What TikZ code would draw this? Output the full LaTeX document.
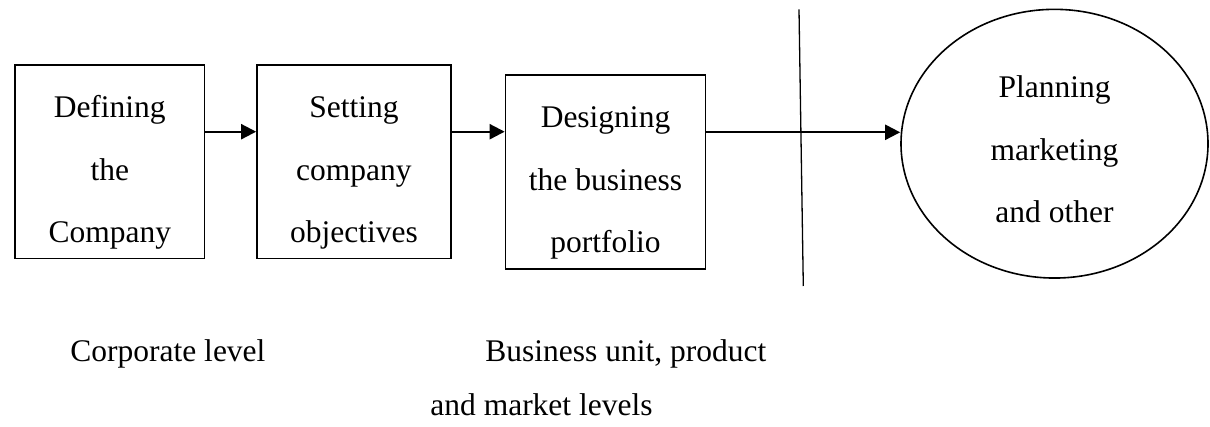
\documentclass[tikz,border=0pt]{standalone}
\usepackage{fontspec}
\setmainfont{Liberation Serif}
\usetikzlibrary{arrows.meta,shapes.geometric}
\begin{document}
\begin{tikzpicture}[x=0.5pt,y=-0.5pt,
  txt/.style={font=\fontsize{15.75}{31.25}\selectfont},
  stepbox/.style={draw, line width=0.85pt, inner sep=0pt, txt, text height=26.35pt, text depth=70.5pt, anchor=north},
  arr/.style={line width=1.1pt, -{Triangle[length=7.5pt,width=7.5pt]}},
  lbl/.style={font=\fontsize{15.75}{27}\selectfont, inner sep=0pt, anchor=base west}]
\useasboundingbox (0,0) rectangle (1210,427);
\node[stepbox, minimum width=94.75pt] (b1) at (109.75,64) {\begin{tabular}[t]{@{}c@{}}Defining\\the\\Company\end{tabular}};
\node[stepbox, minimum width=96.9pt] (b2) at (353.9,64) {\begin{tabular}[t]{@{}c@{}}Setting\\company\\objectives\end{tabular}};
\node[stepbox, minimum width=100pt] (b3) at (605.5,74.3) {\begin{tabular}[t]{@{}c@{}}Designing\\the business\\portfolio\end{tabular}};
\node[draw, ellipse, line width=0.8pt, inner sep=0pt, minimum width=153.5pt, minimum height=134.35pt, txt, text height=5pt, text depth=50.7pt] (c) at (1054.5,143.7) {\begin{tabular}[t]{@{}c@{}}Planning\\marketing\\and other\end{tabular}};
\coordinate (a1) at ([yshift=-33.85pt]b1.north east);
\coordinate (a2) at ([yshift=-33.85pt]b2.north east);
\coordinate (a3) at ([yshift=-29pt]b3.north east);
\draw[arr] (a1) -- (a1 -| b2.west);
\draw[arr] (a2) -- (a2 -| b3.west);
\draw[arr] (a3) -- (a3 -| c.west);
\coordinate (vt) at (799,9.3);
\coordinate (vb) at (803.3,286);
\draw[line width=0.65pt] (vt) -- (vb);
\node[lbl] (l1) at (70,361) {Corporate level};
\node[lbl] (l2) at (485,361) {Business unit, product};
\node[lbl] (l3) at (430,415) {and market levels};
\end{tikzpicture}
\end{document}
